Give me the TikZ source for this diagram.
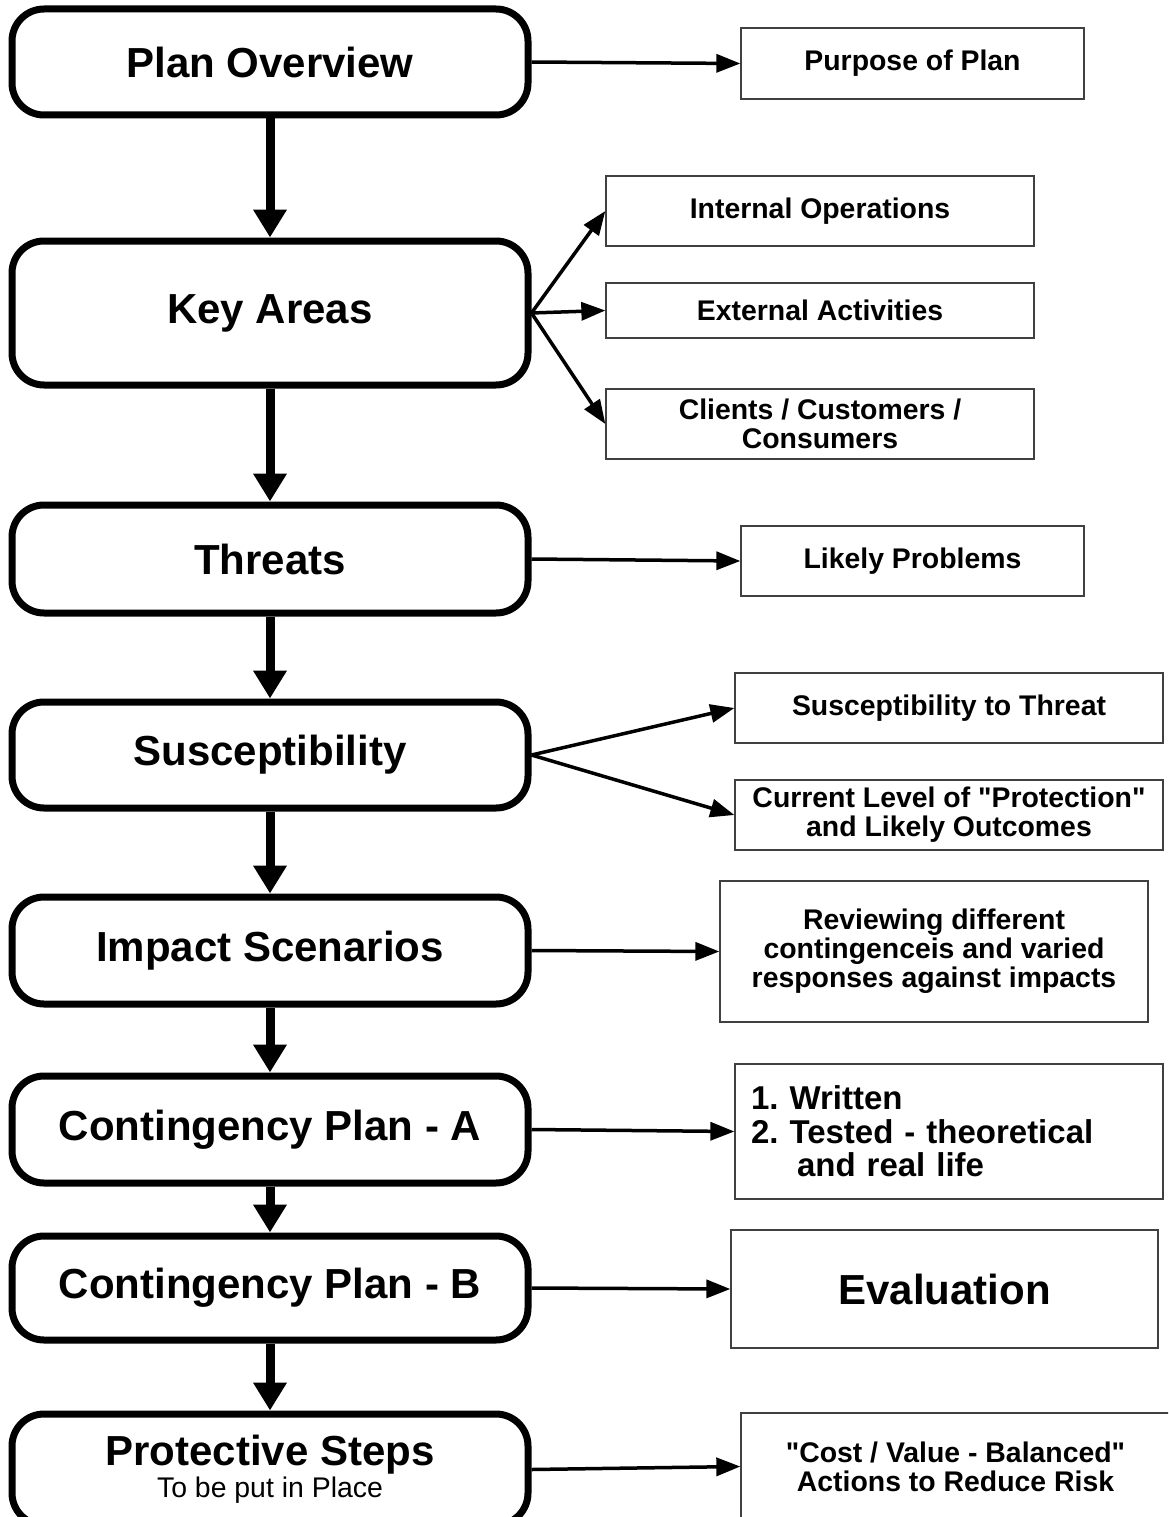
\documentclass[tikz,border=0pt]{standalone}
\usepackage{fontspec}
\setmainfont[Ligatures=TeXOff]{Liberation Sans}
\usetikzlibrary{arrows.meta}
\frenchspacing
\begin{document}
\begin{tikzpicture}[x=1pt,y=-1pt,
  stage/.style={draw, line width=7pt, rounded corners=32pt, minimum width=516pt,
    inner sep=0pt, align=center, font=\fontsize{42}{44}\selectfont\bfseries},
  item/.style={draw=black!75, line width=1.3pt, minimum width=428pt, inner sep=0pt,
    align=center, font=\fontsize{28.4}{29}\selectfont\bfseries},
  flow/.style={line width=9pt, -{Triangle[length=28pt,width=32pt]}},
  link/.style={line width=3.5pt, -{Triangle[length=24pt,width=18pt]}}]

\useasboundingbox (0,0) rectangle (1168,1517);
\fill[white] (0,0) rectangle (1168,1517);
\clip (0,0) rectangle (1168,1517);

% main stages
\node[stage, minimum height=106pt] (plan)    at (270,62)    {Plan Overview};
\node[stage, minimum height=144pt] (key)     at (270,313)   {Key Areas};
\node[stage, minimum height=108pt] (threats) at (270,559)   {Threats};
\node[stage, minimum height=106pt] (susc)    at (270,755)   {Susceptibility};
\node[stage, minimum height=107pt] (impact)  at (270,950.5) {Impact Scenarios};
\node[stage, minimum height=107pt] (conta)   at (270,1129.5){Contingency Plan - A};
\node[stage, minimum height=104pt] (contb)   at (270,1288)  {Contingency Plan - B};
\node[stage, minimum height=111pt] (protect) at (270,1469.5)
  {Protective Steps\\[-12pt]{\fontsize{28.4}{32}\selectfont\mdseries To be put in Place}};

% detail boxes
\node[item, minimum width=343pt, minimum height=71pt] (purpose) at (912.5,63.5) {Purpose of Plan};
\node[item, minimum height=70pt]  (internal) at (820,211)   {Internal Operations};
\node[item, minimum height=55pt]  (external) at (820,310.5) {External Activities};
\node[item, minimum height=70pt]  (clients)  at (820,424)   {Clients / Customers /\\Consumers};
\node[item, minimum width=343pt, minimum height=70pt] (likely) at (912.5,561) {Likely Problems};
\node[item, minimum height=70pt]  (suscthr)  at (949,708)   {Susceptibility to Threat};
\node[item, minimum height=70pt]  (current)  at (949,815)   {Current Level of "Protection"\\and Likely Outcomes};
\node[item, minimum height=141pt] (review)   at (934,951.5)
  {Reviewing different\\contingenceis and varied\\responses against impacts};
\node[item, minimum height=135pt, text width=396pt, inner xsep=16pt, align=left,
      font=\fontsize{33}{33.5}\selectfont\bfseries] (written) at (949,1131.5)
  {1. Written\\2. Tested - theoretical\\\hspace*{46pt}and real life};
\node[item, minimum width=427pt, minimum height=118pt,
      font=\fontsize{42}{44}\selectfont\bfseries] (eval) at (944.5,1289) {Evaluation};
\node[item, minimum width=429pt, minimum height=107pt] (cost) at (955.5,1466.5)
  {"Cost / Value - Balanced"\\Actions to Reduce Risk};

% main flow
\draw[flow] (plan.south)    -- (key.north);
\draw[flow] (key.south)     -- (threats.north);
\draw[flow] (threats.south) -- (susc.north);
\draw[flow] (susc.south)    -- (impact.north);
\draw[flow] (impact.south)  -- (conta.north);
\draw[flow] (conta.south)   -- (contb.north);
\draw[flow] (contb.south)   -- (protect.north);

% side links
\draw[link] (plan.east)    -- (purpose.west);
\draw[link] (key.east)     -- (internal.west);
\draw[link] (key.east)     -- (external.west);
\draw[link] (key.east)     -- (clients.west);
\draw[link] (threats.east) -- (likely.west);
\draw[link] (susc.east)    -- (suscthr.west);
\draw[link] (susc.east)    -- (current.west);
\draw[link] (impact.east)  -- (review.west);
\draw[link] (conta.east)   -- (written.west);
\draw[link] (contb.east)   -- (eval.west);
\draw[link] (protect.east) -- (cost.west);
\end{tikzpicture}
\end{document}
